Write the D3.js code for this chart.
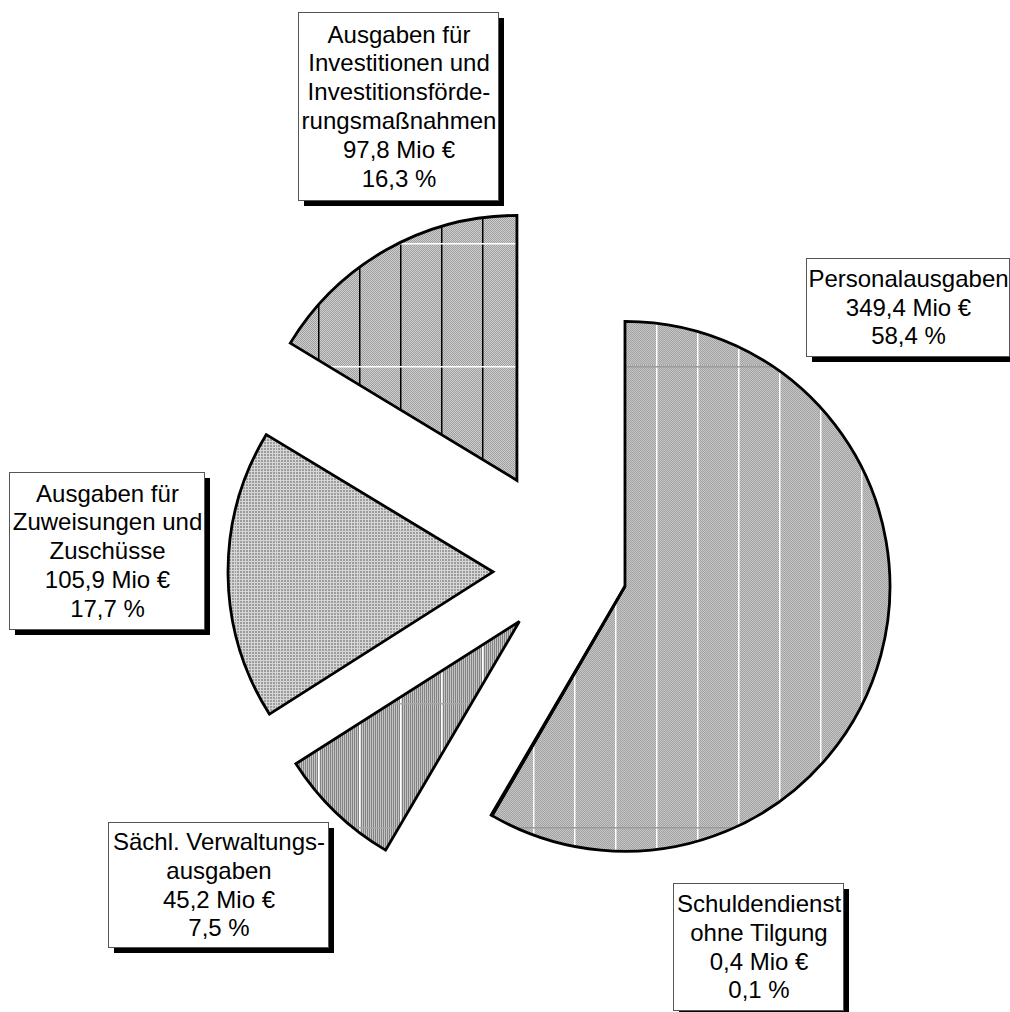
<!DOCTYPE html>
<html>
<head>
<meta charset="utf-8">
<script src="https://cdn.jsdelivr.net/npm/d3@7"></script>
<style>
  body { margin: 0; background: #fff; }
  text { font-family: "Liberation Sans", Arial, sans-serif; }
</style>
</head>
<body>
<svg id="chart" width="1010" height="1012"></svg>
<script>
// data (Mio €)
const categories = ["Personalausgaben", "Schuldendienst ohne Tilgung", "Sächl. Verwaltungsausgaben",
    "Ausgaben für Zuweisungen und Zuschüsse", "Ausgaben für Investitionen und Investitionsförderungsmaßnahmen"]
const valuesMio = [349.4, 0.4, 45.2, 105.9, 97.8]
const nameLines = [
    ["Personalausgaben"],
    ["Schuldendienst", "ohne Tilgung"],
    ["Sächl. Verwaltungs-", "ausgaben"],
    ["Ausgaben für", "Zuweisungen und", "Zuschüsse"],
    ["Ausgaben für", "Investitionen und", "Investitionsförde-", "rungsmaßnahmen"]
]

// layout
const cx = 568, cy = 571, radius = 265
const explode = [59, 59, 70, 75, 104]
// the tiny slice sits on the edge of the big one, so it moves with it
const explodeRef = [0, 0, 2, 3, 4]
const boxes = [
    { x: 806, y: 258, w: 203, h: 98 },
    { x: 673, y: 883, w: 170, h: 127 },
    { x: 108, y: 822, w: 220, h: 125 },
    { x: 9, y: 472, w: 195, h: 157 },
    { x: 298, y: 12, w: 200, h: 188 }
]
const fontSize = 24, lineH = 28.8

const svg = d3.select("#chart")
const defs = svg.append("defs")

const pie = d3.pie().sort(null).value(d => d)
const arcs = pie(valuesMio)
const arc = d3.arc().innerRadius(0).outerRadius(radius)

const shift = arcs.map((d, i) => {
    const r = arcs[explodeRef[i]]
    const a = (r.startAngle + r.endAngle) / 2
    return [cx + explode[i] * Math.sin(a), cy - explode[i] * Math.cos(a)]
})

// fine fill textures
function fine(id, bg, cells) {
    const p = defs.append("pattern").attr("id", id)
        .attr("patternUnits", "userSpaceOnUse")
        .attr("width", cells.w).attr("height", cells.h)
    p.append("rect").attr("width", cells.w).attr("height", cells.h).attr("fill", bg)
    cells.px.forEach(c => p.append("rect").attr("x", c[0]).attr("y", c[1])
        .attr("width", c[2] || 1).attr("height", c[3] || 1).attr("fill", cells.fg))
}
fine("fDiag", "#c6c6c6", { w: 2, h: 2, fg: "#a2a2a2", px: [[1, 0], [0, 1]] })
fine("fVert", "#cfcfcf", { w: 2, h: 2, fg: "#9e9e9e", px: [[0, 0], [1, 1]] })
fine("fGrid", "#d6d6d6", { w: 3, h: 3, fg: "#9c9c9c", px: [[1, 1, 2, 2]] })
fine("fDense", "#c4c4c4", { w: 2, h: 1, fg: "#828282", px: [[0, 0]] })

// coarse tiles with the banding lines seen in the original (page coords)
function coarse(i, fineId, w, h, ox, oy, vCol, hCol) {
    const [tx, ty] = shift[i]
    const p = defs.append("pattern").attr("id", "p" + i)
        .attr("patternUnits", "userSpaceOnUse")
        .attr("x", ox - tx).attr("y", oy - ty)
        .attr("width", w).attr("height", h)
    p.append("rect").attr("width", w).attr("height", h).attr("fill", `url(#${fineId})`)
    if (vCol) p.append("rect").attr("x", 0).attr("y", 0).attr("width", 1.5).attr("height", h).attr("fill", vCol)
    if (hCol) p.append("rect").attr("x", 0).attr("y", 0).attr("width", w).attr("height", 1.5).attr("fill", hCol)
}
coarse(0, "fDiag", 41, 461, 656, 366, "#ffffff", "#9a9a9a")
coarse(1, "fDiag", 41, 461, 656, 366, "#ffffff", "#9a9a9a")
coarse(2, "fDense", 41, 124, 318, 703, "#ffffff", "#a8a8a8")
coarse(3, "fGrid", 41, 123, 318, 366, null, null)
coarse(4, "fVert", 41, 123, 318, 366, "#000000", "#ffffff")

svg.append("g")
    .attr("class", "slices")
    .selectAll("path")
    .data(arcs)
    .join("path")
    .attr("transform", (d, i) => `translate(${shift[i][0]},${shift[i][1]})`)
    .attr("d", arc)
    .attr("fill", (d, i) => `url(#p${i})`)
    .attr("stroke", "#000")
    .attr("stroke-width", 2.8)
    .attr("stroke-linejoin", "miter")

// labels
const total = d3.sum(valuesMio)
const de = v => v.toFixed(1).replace(".", ",")

const labels = svg.append("g").attr("class", "labels")
    .selectAll("g")
    .data(valuesMio)
    .join("g")

labels.append("rect")
    .attr("x", (d, i) => boxes[i].x + 6)
    .attr("y", (d, i) => boxes[i].y + 6)
    .attr("width", (d, i) => boxes[i].w)
    .attr("height", (d, i) => boxes[i].h)
    .attr("fill", "#000")

labels.append("rect")
    .attr("x", (d, i) => boxes[i].x + 0.5)
    .attr("y", (d, i) => boxes[i].y + 0.5)
    .attr("width", (d, i) => boxes[i].w)
    .attr("height", (d, i) => boxes[i].h)
    .attr("fill", "#fff")
    .attr("stroke", "#555")
    .attr("stroke-width", 1)

labels.each(function (v, i) {
    const b = boxes[i]
    const lines = nameLines[i].concat([de(v) + " Mio €", de(v / total * 100) + " %"])
    const top = b.y + b.h / 2 - lines.length * lineH / 2
    d3.select(this).selectAll("text")
        .data(lines)
        .join("text")
        .attr("x", b.x + b.w / 2 + 1)
        .attr("y", (l, k) => top + lineH * (k + 0.5) + fontSize * 0.36)
        .attr("text-anchor", "middle")
        .attr("font-size", fontSize)
        .attr("fill", "#000")
        .text(l => l)
})
</script>
</body>
</html>
